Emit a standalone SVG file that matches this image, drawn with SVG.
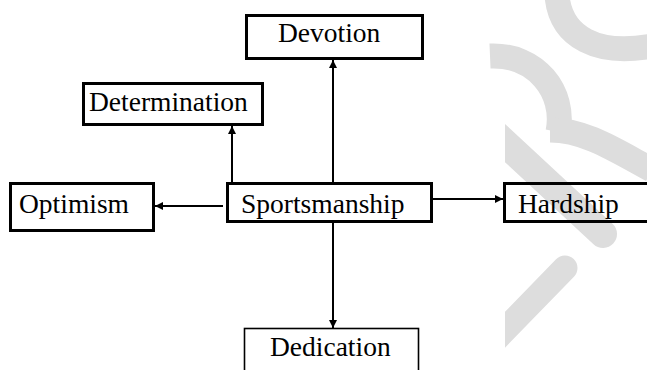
<svg xmlns="http://www.w3.org/2000/svg" width="647" height="370" viewBox="0 0 647 370">
  <style>
    .box { fill: none; stroke: #000; stroke-width: 3; }
    .thin { fill: none; stroke: #000; stroke-width: 1.6; }
    .lbl { font-family: "Liberation Serif", "Times New Roman", serif; font-size: 27.5px; fill: #000; }
    .conn { stroke: #000; stroke-width: 2; fill: none; marker-end: url(#ah); }
    .wm { fill: none; stroke: #dddddd; stroke-width: 25; }
  </style>
  <defs>
    <marker id="ah" viewBox="0 0 10 10" refX="10" refY="5" markerWidth="9" markerHeight="8" markerUnits="userSpaceOnUse" orient="auto">
      <path d="M0,0 L10,5 L0,10 z" fill="#000"/>
    </marker>
    <clipPath id="wmclip">
      <rect x="505" y="0" width="150" height="370"/>
    </clipPath>
  </defs>
  <rect width="647" height="370" fill="#fff"/>
  <g id="watermark">
    <path class="wm" d="M557,-4 C561,38 598,56 652,46"/>
    <path class="wm" d="M490,56 C536,54 566,92 558,132"/>
    <path class="wm" d="M550,130 C585,130 615,150 652,170"/>
    <g clip-path="url(#wmclip)">
      <path class="wm" d="M492,131 L603,234" stroke-linecap="round" style="stroke-width:28"/>
      <path class="wm" d="M495,340 L565,268" stroke-linecap="round"/>
    </g>
  </g>
  <g id="connectors">
    <line class="conn" x1="333" y1="182" x2="333" y2="60"/>
    <line class="conn" x1="232" y1="182" x2="232" y2="126"/>
    <line class="conn" x1="223" y1="206" x2="155" y2="206"/>
    <line class="conn" x1="433" y1="199" x2="503" y2="199"/>
    <line class="conn" x1="333" y1="223" x2="333" y2="328"/>
  </g>
  <g id="devotion">
    <rect class="box" x="246.5" y="15.5" width="176" height="43"/>
    <text class="lbl" x="278" y="42">Devotion</text>
  </g>
  <g id="determination">
    <rect class="box" x="83.5" y="83.5" width="179" height="41"/>
    <text class="lbl" x="89" y="111">Determination</text>
  </g>
  <g id="optimism">
    <rect class="box" x="10.5" y="183.5" width="143" height="47"/>
    <text class="lbl" x="19" y="213">Optimism</text>
  </g>
  <g id="sportsmanship">
    <rect class="box" x="227.5" y="183.5" width="204" height="38"/>
    <text class="lbl" x="241" y="213">Sportsmanship</text>
  </g>
  <g id="hardship">
    <rect class="box" x="504.5" y="183.5" width="150" height="38"/>
    <text class="lbl" x="518" y="213">Hardship</text>
  </g>
  <g id="dedication">
    <rect class="thin" x="244.5" y="328.5" width="174" height="60"/>
    <text class="lbl" x="270" y="356">Dedication</text>
  </g>
</svg>
